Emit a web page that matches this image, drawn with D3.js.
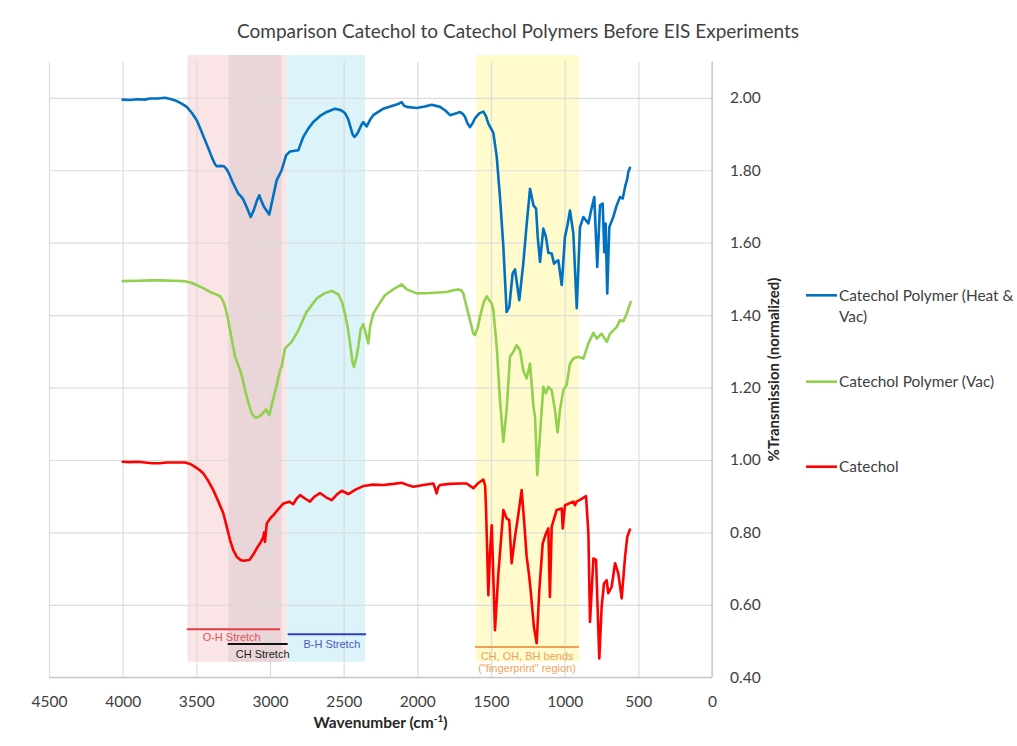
<!DOCTYPE html>
<html>
<head>
<meta charset="utf-8">
<script src="https://cdn.jsdelivr.net/npm/d3@7/dist/d3.min.js"></script>
<style>
  html, body { margin: 0; padding: 0; background: #ffffff; }
  svg { display: block; }
  text { font-family: Lato, "Open Sans", sans-serif; }
  .note { font-family: "Liberation Sans", Arial, sans-serif; }
</style>
</head>
<body>
<svg id="chart" width="1017" height="746"></svg>
<script>
// FTIR spectra, [wavenumber (cm-1), normalized %T]
const heatVac = [
  [4000,1.995],[3950,1.994],[3900,1.996],[3850,1.995],[3815,1.998],[3760,1.998],[3713,2.000],[3670,1.996],
  [3633,1.991],[3600,1.984],[3565,1.975],[3530,1.958],[3497,1.938],[3470,1.912],[3441,1.883],[3415,1.857],
  [3396,1.837],[3375,1.818],[3362,1.811],[3335,1.812],[3312,1.811],[3295,1.803],[3283,1.795],[3249,1.763],
  [3215,1.735],[3195,1.727],[3181,1.719],[3155,1.695],[3131,1.671],[3110,1.690],[3090,1.715],[3073,1.731],
  [3055,1.712],[3041,1.699],[3005,1.678],[2980,1.725],[2955,1.772],[2921,1.800],[2891,1.841],[2864,1.852],
  [2808,1.855],[2790,1.875],[2774,1.892],[2740,1.915],[2706,1.933],[2660,1.950],[2615,1.961],[2559,1.970],
  [2520,1.966],[2491,1.958],[2470,1.942],[2457,1.924],[2440,1.900],[2428,1.892],[2415,1.897],[2401,1.906],
  [2380,1.925],[2367,1.933],[2344,1.921],[2320,1.940],[2299,1.952],[2231,1.970],[2163,1.979],[2130,1.983],
  [2106,1.988],[2090,1.978],[2072,1.975],[2004,1.972],[1950,1.976],[1903,1.981],[1846,1.975],[1810,1.965],
  [1778,1.952],[1740,1.957],[1710,1.961],[1690,1.955],[1676,1.947],[1660,1.930],[1643,1.919],[1625,1.930],
  [1609,1.943],[1580,1.957],[1552,1.962],[1535,1.950],[1518,1.929],[1484,1.903],[1461,1.837],[1439,1.726],
  [1416,1.588],[1394,1.409],[1376,1.423],[1353,1.515],[1337,1.526],[1308,1.441],[1281,1.542],[1258,1.650],
  [1235,1.749],[1212,1.703],[1194,1.694],[1183,1.616],[1167,1.547],[1145,1.639],[1127,1.616],[1111,1.572],
  [1088,1.570],[1072,1.542],[1058,1.548],[1043,1.551],[1020,1.483],[998,1.616],[980,1.650],[964,1.689],
  [941,1.625],[918,1.419],[896,1.643],[873,1.671],[839,1.653],[820,1.690],[799,1.726],[779,1.533],
  [760,1.703],[742,1.708],[731,1.574],[722,1.653],[711,1.460],[697,1.643],[670,1.671],[647,1.703],
  [624,1.726],[606,1.722],[590,1.754],[575,1.777],[568,1.795],[557,1.807]
];

const vacOnly = [
  [4000,1.494],[3900,1.495],[3800,1.496],[3747,1.496],[3650,1.495],[3588,1.494],[3540,1.490],[3497,1.483],
  [3450,1.474],[3407,1.464],[3370,1.458],[3339,1.452],[3320,1.440],[3305,1.423],[3288,1.395],[3271,1.358],
  [3237,1.285],[3215,1.262],[3192,1.234],[3158,1.174],[3124,1.128],[3100,1.117],[3079,1.119],[3050,1.128],
  [3027,1.140],[3005,1.124],[2977,1.170],[2950,1.215],[2932,1.248],[2921,1.257],[2898,1.308],[2853,1.326],
  [2808,1.358],[2751,1.409],[2683,1.446],[2630,1.460],[2581,1.467],[2536,1.457],[2510,1.435],[2491,1.404],
  [2470,1.360],[2457,1.322],[2440,1.270],[2430,1.257],[2415,1.280],[2401,1.312],[2385,1.360],[2367,1.375],
  [2350,1.350],[2333,1.322],[2320,1.370],[2299,1.404],[2265,1.427],[2220,1.455],[2163,1.471],[2106,1.485],
  [2072,1.471],[2004,1.460],[1914,1.461],[1801,1.464],[1750,1.469],[1722,1.471],[1700,1.468],[1688,1.460],
  [1670,1.430],[1654,1.404],[1620,1.349],[1609,1.345],[1590,1.365],[1575,1.395],[1550,1.435],[1529,1.452],
  [1510,1.440],[1495,1.432],[1484,1.413],[1461,1.312],[1439,1.165],[1416,1.050],[1394,1.138],[1371,1.285],
  [1348,1.299],[1326,1.317],[1303,1.303],[1281,1.248],[1258,1.225],[1235,1.266],[1212,1.147],[1201,1.119],
  [1186,0.958],[1167,1.073],[1145,1.202],[1127,1.184],[1111,1.202],[1088,1.193],[1066,1.138],[1048,1.076],
  [1032,1.138],[1009,1.193],[987,1.207],[964,1.266],[941,1.280],[907,1.285],[873,1.280],[839,1.322],
  [805,1.351],[782,1.335],[749,1.349],[715,1.326],[692,1.349],[647,1.367],[624,1.386],[602,1.383],
  [579,1.404],[552,1.436]
];

const catechol = [
  [4000,0.995],[3950,0.994],[3900,0.995],[3850,0.993],[3800,0.991],[3750,0.991],[3700,0.993],[3650,0.993],
  [3577,0.993],[3540,0.989],[3509,0.981],[3480,0.973],[3453,0.963],[3420,0.943],[3385,0.917],[3350,0.885],
  [3317,0.853],[3295,0.818],[3271,0.779],[3250,0.752],[3226,0.733],[3200,0.724],[3181,0.722],[3140,0.724],
  [3115,0.738],[3090,0.756],[3060,0.775],[3045,0.788],[3040,0.800],[3034,0.774],[3022,0.825],[3000,0.838],
  [2977,0.848],[2940,0.866],[2909,0.880],[2870,0.885],[2842,0.878],[2820,0.893],[2796,0.903],[2760,0.893],
  [2729,0.885],[2700,0.898],[2661,0.909],[2620,0.897],[2581,0.889],[2545,0.905],[2513,0.915],[2468,0.906],
  [2420,0.918],[2367,0.928],[2300,0.932],[2231,0.931],[2160,0.934],[2106,0.937],[2060,0.930],[2027,0.926],
  [1960,0.931],[1891,0.935],[1878,0.920],[1869,0.908],[1858,0.925],[1846,0.931],[1780,0.934],[1710,0.935],
  [1665,0.935],[1640,0.928],[1620,0.922],[1590,0.935],[1552,0.946],[1540,0.930],[1534,0.871],[1518,0.627],
  [1507,0.740],[1495,0.820],[1473,0.530],[1450,0.687],[1416,0.862],[1394,0.839],[1376,0.834],[1360,0.715],
  [1337,0.788],[1315,0.848],[1292,0.917],[1274,0.825],[1258,0.733],[1243,0.687],[1231,0.641],[1209,0.540],
  [1190,0.494],[1172,0.641],[1149,0.770],[1127,0.797],[1111,0.811],[1100,0.622],[1088,0.816],[1054,0.862],
  [1020,0.866],[1013,0.811],[998,0.875],[941,0.885],[930,0.875],[920,0.885],[896,0.890],[855,0.900],
  [839,0.797],[828,0.553],[805,0.728],[787,0.724],[765,0.452],[749,0.595],[733,0.659],[715,0.668],
  [704,0.632],[681,0.650],[658,0.715],[636,0.687],[613,0.618],[590,0.733],[575,0.788],[557,0.808]
];

const seriesNames = ["Catechol Polymer (Heat & Vac)", "Catechol Polymer (Vac)", "Catechol"];
const seriesColors = ["#0070C0", "#92D050", "#FF0000"];

const xTicks = [4500, 4000, 3500, 3000, 2500, 2000, 1500, 1000, 500, 0];
const yTicks = [0.4, 0.6, 0.8, 1.0, 1.2, 1.4, 1.6, 1.8, 2.0];

// Highlighted absorption regions (wavenumber ranges)
const bands = [
  { from: 3561, to: 2887, fill: "#fbe4e6" },
  { from: 3283, to: 2921, fill: "#ead6d8" },
  { from: 2887, to: 2355, fill: "#dcf3fa" },
  { from: 1602, to: 903,  fill: "#fffbcd" }
];

// Bracket lines with labels under the bands
const brackets = [
  { from: 3565, to: 2932, level: 0.533, stroke: "#e03c44", color: "#e8505a", lines: ["O-H Stretch"], labelX: 3260, labelDy: 12 },
  { from: 3287, to: 2880, level: 0.492, stroke: "#111111", color: "#222222", lines: ["CH Stretch"], labelX: 3050, labelDy: 14 },
  { from: 2880, to: 2348, level: 0.519, stroke: "#3440c4", color: "#5058c8", lines: ["B-H Stretch"], labelX: 2580, labelDy: 14 },
  { from: 1609, to: 903,  level: 0.484, stroke: "#f0a050", color: "#f2a35a", lines: ["CH, OH, BH bends", "(\"fingerprint\" region)"], labelX: 1255, labelDy: 13 }
];

const svg = d3.select("#chart");
const W = 1017, H = 746;
const plot = { left: 49, right: 712, top: 61.6, bottom: 677.3 };

svg.append("rect").attr("width", W).attr("height", H).attr("fill", "#ffffff");

const x = d3.scaleLinear().domain([4500, 0]).range([plot.left, plot.right]);
const y = d3.scaleLinear().domain([0.4, 2.1]).range([plot.bottom, plot.top]);

// shaded regions
svg.append("g").selectAll("rect").data(bands).join("rect")
  .attr("x", d => x(d.from))
  .attr("width", d => x(d.to) - x(d.from))
  .attr("y", y(2.118))
  .attr("height", y(0.443) - y(2.118))
  .attr("fill", d => d.fill);

// vertical gridlines + x labels
const xAxis = svg.append("g")
  .attr("transform", `translate(0,${plot.bottom})`)
  .call(d3.axisBottom(x).tickValues(xTicks).tickSize(-(plot.bottom - plot.top)).tickPadding(19).tickFormat(d3.format("d")));
xAxis.select(".domain").remove();
xAxis.selectAll(".tick line").attr("stroke", "#d9d9d9").attr("stroke-width", 1.2).attr("stroke-opacity", 0.9);
xAxis.selectAll(".tick text").attr("fill", "#404040").style("font-size", "15.5px").style("font-family", "Lato, sans-serif");

// horizontal gridlines + y labels on the right
const yAxis = svg.append("g")
  .attr("transform", `translate(${plot.right},0)`)
  .call(d3.axisRight(y).tickValues(yTicks).tickSize(-(plot.right - plot.left)).tickPadding(18).tickFormat(d3.format(".2f")));
yAxis.select(".domain").remove();
yAxis.selectAll(".tick line").attr("stroke", "#d9d9d9").attr("stroke-width", 1.2).attr("stroke-opacity", 0.9);
yAxis.selectAll(".tick text").attr("fill", "#404040").style("font-size", "15.5px").style("font-family", "Lato, sans-serif");

// axis lines
svg.append("line").attr("x1", plot.left).attr("x2", plot.right).attr("y1", plot.bottom).attr("y2", plot.bottom)
  .attr("stroke", "#c8c8c8").attr("stroke-width", 1.3);
svg.append("line").attr("x1", plot.right).attr("x2", plot.right).attr("y1", plot.top).attr("y2", plot.bottom)
  .attr("stroke", "#c8c8c8").attr("stroke-width", 1.3);

// bracket lines and labels
const br = svg.append("g");
brackets.forEach(b => {
  br.append("line")
    .attr("x1", x(b.from)).attr("x2", x(b.to))
    .attr("y1", y(b.level)).attr("y2", y(b.level))
    .attr("stroke", b.stroke).attr("stroke-width", 2);
  b.lines.forEach((t, i) => {
    br.append("text").attr("class", "note")
      .attr("x", x(b.labelX))
      .attr("y", y(b.level) + b.labelDy + i * 12.5)
      .attr("text-anchor", "middle")
      .attr("fill", b.color)
      .style("font-size", "11px")
      .text(t);
  });
});

// spectra
const line = d3.line().x(d => x(d[0])).y(d => y(d[1]));
const allSeries = [heatVac, vacOnly, catechol];
svg.append("g").selectAll("path").data(allSeries).join("path")
  .attr("d", line)
  .attr("fill", "none")
  .attr("stroke", (d, i) => seriesColors[i])
  .attr("stroke-width", 2.6)
  .attr("stroke-linejoin", "round")
  .attr("stroke-linecap", "round");

// title
svg.append("text")
  .attr("x", 518).attr("y", 38)
  .attr("text-anchor", "middle")
  .attr("fill", "#404040")
  .style("font-size", "19px")
  .text("Comparison Catechol to Catechol Polymers Before EIS Experiments");

// x axis title with superscript
const xt = svg.append("text")
  .attr("x", (plot.left + plot.right) / 2).attr("y", 728)
  .attr("text-anchor", "middle")
  .attr("fill", "#262626")
  .style("font-size", "15.5px")
  .style("font-weight", "bold");
xt.append("tspan").text("Wavenumber (cm");
xt.append("tspan").attr("dy", -6).style("font-size", "10px").text("-1");
xt.append("tspan").attr("dy", 6).text(")");

// y axis title
svg.append("text")
  .attr("transform", `translate(779,${(plot.top + plot.bottom) / 2}) rotate(-90)`)
  .attr("text-anchor", "middle")
  .attr("fill", "#262626")
  .style("font-size", "15px")
  .style("font-weight", "bold")
  .text("%Transmission (normalized)");

// legend
const legendRows = [
  { y: 295.3, lines: ["Catechol Polymer (Heat &", "Vac)"] },
  { y: 381.7, lines: ["Catechol Polymer (Vac)"] },
  { y: 466.7, lines: ["Catechol"] }
];
const lg = svg.append("g");
legendRows.forEach((r, i) => {
  lg.append("line").attr("x1", 806).attr("x2", 837).attr("y1", r.y).attr("y2", r.y)
    .attr("stroke", seriesColors[i]).attr("stroke-width", 2.6);
  r.lines.forEach((t, k) => {
    lg.append("text").attr("x", 839).attr("y", r.y + 5.5 + k * 21)
      .attr("fill", "#404040").style("font-size", "15.4px").text(t);
  });
});
</script>
</body>
</html>
